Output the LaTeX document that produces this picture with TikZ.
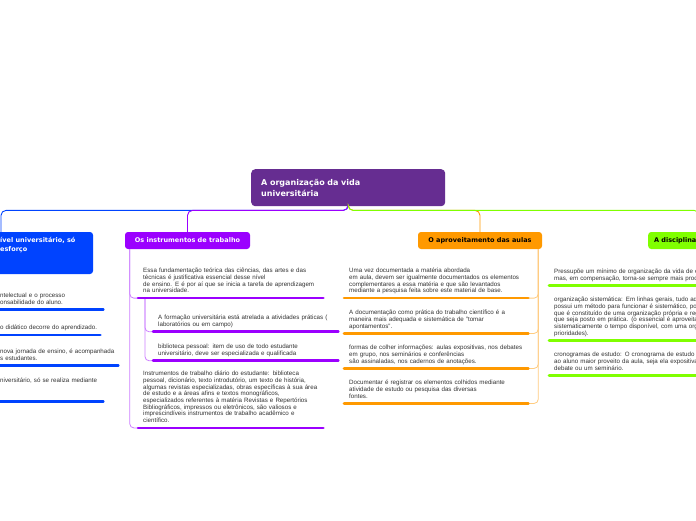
\documentclass[tikz,border=0pt]{standalone}
\usepackage{fontspec}
\setmainfont{Liberation Sans}
\newfontfamily\headfont{DejaVu Sans}
\definecolor{MMRoot}{HTML}{662D91}
\definecolor{MMBlue}{HTML}{0043FF}
\definecolor{MMPurple}{HTML}{9B00FF}
\definecolor{MMOrange}{HTML}{FF9900}
\definecolor{MMGreen}{HTML}{80FF00}
\definecolor{MMText}{HTML}{333333}

\begin{document}
\begin{tikzpicture}[x=1pt,y=-1pt,
  head/.style={rounded corners=3pt,minimum height=17pt,inner xsep=6pt,inner ysep=0pt,
    font=\headfont\bfseries\fontsize{6.5}{8.6}\selectfont},
  item/.style={anchor=north west,inner xsep=5pt,inner ysep=3pt,align=left,text=MMText,
    font=\fontsize{6.2}{6.7}\selectfont,execute at begin node=\strut,execute at end node=\strut},
  uline/.style={line width=2.6pt,line cap=round},
  spine/.style={line width=0.8pt,rounded corners=4pt},
  branch/.style={line width=0.9pt,rounded corners=5pt}]
\path[use as bounding box] (0,0) rectangle (696,520);
\clip (0,0) rectangle (696,520);
\fill[white] (0,0) rectangle (696,520);

\node[rounded corners=4pt,fill=MMRoot,text=white,anchor=north west,minimum width=194pt,minimum height=37pt,
  inner xsep=10pt,text width=174pt,align=left,font=\headfont\bfseries\fontsize{8}{10.5}\selectfont]
  (root) at (251,169) {A organização da vida\\universitária};

\node[head,fill=MMBlue,minimum width=184pt,minimum height=42pt] (bnode) at (1,253) {};
\node[anchor=north west,inner sep=0pt,text=white,align=left,font=\headfont\bfseries\fontsize{6.5}{8.6}\selectfont]
  (btitle) at (0,237) {ível universitário, só\\esforço};
\node[head,fill=MMPurple,text=white,minimum width=125pt] (pnode) at (187.5,240.5) {Os instrumentos de trabalho};
\node[head,fill=MMOrange,text=black,minimum width=124pt] (onode) at (480,240.5) {O aproveitamento das aulas};
\node[head,fill=MMGreen,text=black,anchor=west,text width=90pt,align=left] (gnode) at (648,240.5) {A disciplina};

\draw[branch,MMBlue] (root.south) -- ++(0,4) -| (bnode.north);
\draw[branch,MMPurple] (root.south) -- ++(0,4) -| (pnode.north);
\draw[branch,MMOrange] (root.south) -- ++(0,4) -| (onode.north);
\draw[branch,MMGreen] (root.south) -- ++(0,4) -| (gnode.north);

\node[item,inner xsep=0pt,text width=103pt] (bi1) at (0,289.9) {ntelectual e o processo\\onsabilidade do aluno.};
\node[item,inner xsep=0pt,text width=100pt] (bi2) at (0,321.9) {o didático decorre do aprendizado.};
\node[item,inner xsep=0pt,text width=118pt] (bi3) at (0,345.9) {nova jornada de ensino, é acompanhada\\s estudantes.};
\node[item,inner xsep=0pt,text width=103pt] (bi4) at (0,374.9) {niversitário, só se realiza mediante\\\mbox{}\\\mbox{}};

\node[item,text width=175pt] (pi1) at (138,264.9) {Essa fundamentação teórica das ciências, das artes e das\\técnicas é justificativa essencial desse nível\\de ensino. E é por aí que se inicia a tarefa de aprendizagem\\na universidade.};
\node[item,text width=175pt] (ps1) at (153,311.9) {A formação universitária está atrelada a atividades práticas (\\laboratórios ou em campo)};
\node[item,text width=175pt] (ps2) at (153,340.9) {biblioteca pessoal: item de uso de todo estudante\\universitário, deve ser especializada e qualificada};
\node[item,text width=175pt] (pi2) at (138,367.9) {Instrumentos de trabalho diário do estudante: biblioteca\\pessoal, dicionário, texto introdutório, um texto de história,\\algumas revistas especializadas, obras específicas à sua área\\de estudo e a áreas afins e textos monográficos,\\especializados referentes à matéria Revistas e Repertórios\\Bibliográficos, impressos ou eletrônicos, são valiosos e\\imprescindíveis instrumentos de trabalho acadêmico e\\científico.};

\node[item,text width=174pt] (oi1) at (344,264.9) {Uma vez documentada a matéria abordada\\em aula, devem ser igualmente documentados os elementos\\complementares a essa matéria e que são levantados\\mediante a pesquisa feita sobre este material de base.};
\node[item,text width=174pt] (oi2) at (344,306.9) {A documentação como prática do trabalho científico é a\\maneira mais adequada e sistemática de "tomar\\apontamentos".};
\node[item,text width=174pt] (oi3) at (344,341.9) {formas de colher informações: aulas expositivas, nos debates\\em grupo, nos seminários e conferências\\são assinaladas, nos cadernos de anotações.};
\node[item,text width=174pt] (oi4) at (344,376.9) {Documentar é registrar os elementos colhidos mediante\\atividade de estudo ou pesquisa das diversas\\fontes.};

\node[item,text width=180pt] (gi1) at (549,265.9) {Pressupõe um mínimo de organização da vida de e\\mas, em compensação, torna-se sempre mais prod};
\node[item,text width=180pt] (gi2) at (549,293.9) {organização sistemática: Em linhas gerais, tudo aq\\possui um método para funcionar é sistemático, po\\que é constituído de uma organização própria e reg\\que seja posto em prática. (o essencial é aproveita\\sistematicamente o tempo disponível, com uma org\\prioridades).};
\node[item,text width=180pt] (gi3) at (549,348.9) {cronogramas de estudo: O cronograma de estudo p\\ao aluno maior proveito da aula, seja ela expositiva\\debate ou um seminário.};

\foreach \n in {bi1,bi2,bi3,bi4}
  \draw[spine,MMBlue!50] ([xshift=10pt]bnode.south west) |- (\n.south west);
\foreach \n in {pi1,pi2}
  \draw[spine,MMPurple!50] ([xshift=5pt]pnode.south west) |- (\n.south west);
\foreach \n in {ps1,ps2}
  \draw[spine,MMPurple!50] ([xshift=7pt]pi1.south west) |- (\n.south west);
\foreach \n in {oi1,oi2,oi3,oi4}
  \draw[spine,MMOrange!50] ([xshift=-4pt]onode.south east) |- (\n.south east);
\foreach \n in {gi1,gi2,gi3}
  \draw[spine,MMGreen!50] ([xshift=-4pt]gnode.south east) |- (\n.south east);

\foreach \n in {bi1,bi2,bi3,bi4}
  \draw[uline,MMBlue] (\n.south west) -- (\n.south east);
\foreach \n in {pi1,ps1,ps2,pi2}
  \draw[uline,MMPurple] (\n.south west) -- (\n.south east);
\foreach \n in {oi1,oi2,oi3,oi4}
  \draw[uline,MMOrange] (\n.south west) -- (\n.south east);
\foreach \n in {gi1,gi2,gi3}
  \draw[uline,MMGreen] (\n.south west) -- (\n.south east);
\end{tikzpicture}
\end{document}
